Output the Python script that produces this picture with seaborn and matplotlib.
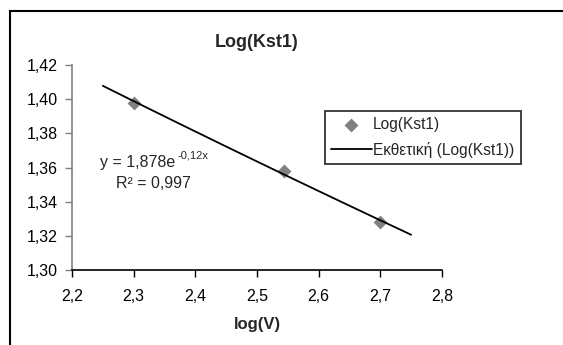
import numpy as np
import pandas as pd
import matplotlib
matplotlib.use("Agg")
import matplotlib.pyplot as plt
from matplotlib.ticker import FuncFormatter, MultipleLocator
from matplotlib.patches import Rectangle
import seaborn as sns

# data
log_v = [2.30, 2.544, 2.699]
log_kst1 = [1.398, 1.358, 1.328]
trend_x_range = [2.25, 2.75]
title = "Log(Kst1)"
xlabel = "log(V)"
series_label = "Log(Kst1)"
trend_label = "Εκθετική (Log(Kst1))"

sns.set_theme(style="white")
plt.rcParams['font.family'] = ['Liberation Sans', 'DejaVu Sans']

fig = plt.figure(figsize=(5.63, 3.45), dpi=100)
ax = fig.add_axes([72/563, 1-270/345, (442-72)/563, (270-65)/345])

df = pd.DataFrame({"x": log_v, "y": log_kst1})
# exponential fit from data
b, a = np.polyfit(np.array(log_v), np.log(np.array(log_kst1)), 1)
tx = np.linspace(trend_x_range[0], trend_x_range[1], 50)
tdf = pd.DataFrame({"x": tx, "y": np.exp(a) * np.exp(b * tx)})

sns.scatterplot(data=df, x="x", y="y", ax=ax, marker="D", s=50, color="#808080",
                edgecolor="#808080", linewidth=0, label=series_label, zorder=2)
sns.lineplot(data=tdf, x="x", y="y", ax=ax, color="black", linewidth=1.3,
             label=trend_label, zorder=3)

ax.set_xlim(2.2, 2.8)
ax.set_ylim(1.30, 1.42)
ax.xaxis.set_major_locator(MultipleLocator(0.1))
ax.yaxis.set_major_locator(MultipleLocator(0.02))
ax.xaxis.set_major_formatter(FuncFormatter(lambda v, p: f"{v:.1f}".replace(".", ",")))
ax.yaxis.set_major_formatter(FuncFormatter(lambda v, p: f"{v:.2f}".replace(".", ",")))
ax.tick_params(axis="both", labelsize=11.5, colors="black", length=5, width=1, direction="out",
               left=True, bottom=True)
ax.tick_params(axis="y", color="#808080", pad=5)
ax.tick_params(axis="x", pad=9)
for s in ["top", "right"]:
    ax.spines[s].set_visible(False)
ax.spines["left"].set_color("#808080")
ax.spines["left"].set_linewidth(1.2)
ax.spines["bottom"].set_color("black")
ax.spines["bottom"].set_linewidth(1.2)
ax.set_xlabel(xlabel, fontsize=12, fontweight="bold", labelpad=9)
ax.set_ylabel("")
ax.set_title(title, fontsize=13, fontweight="bold", pad=13)

# equation annotation
fig.text(100/563, 1-167/345, "y = 1,878e", fontsize=11.5, ha="left", va="baseline")
fig.text(177/563, 1-159/345, "-0,12x", fontsize=8, ha="left", va="baseline")
fig.text(116/563, 1-188/345, "R² = 0,997", fontsize=11.5, ha="left", va="baseline")

leg = ax.legend(loc="upper left", bbox_to_anchor=(325/563, 1-111/345),
                bbox_transform=fig.transFigure, fontsize=11.2, frameon=True,
                fancybox=False, edgecolor="black", borderpad=0.4, handlelength=2.6,
                labelspacing=0.6, handletextpad=0.1, borderaxespad=0)
leg.get_frame().set_linewidth(1.3)

# outer chart border
fig.patches.append(Rectangle((10/563, -0.1), 1.0, 1 - 11/345 + 0.1, transform=fig.transFigure,
                             fill=False, edgecolor="black", linewidth=1.5))

fig.savefig("out.png", dpi=100)
